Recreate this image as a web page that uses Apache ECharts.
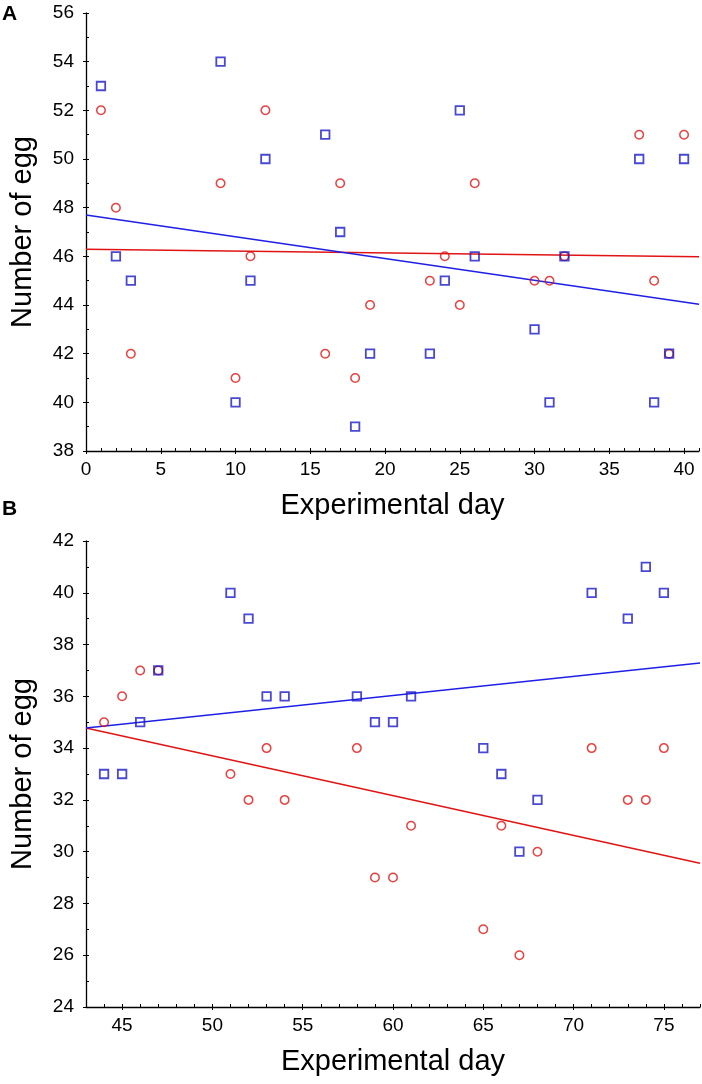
<!DOCTYPE html>
<html>
<head>
<meta charset="utf-8">
<script src="https://cdn.jsdelivr.net/npm/echarts@6/dist/echarts.min.js"></script>
<style>
html,body{margin:0;padding:0;background:#fff;}
#c{width:702px;height:1084px;}
</style>
</head>
<body>
<div id="c"></div>
<script>
// Panel A data
const daysA = [1,2,3,9,10,11,12,16,17,18,19,23,24,25,26,30,31,32,37,38,39,40];
const blueA = [53,46,45,54,40,45,50,51,47,39,42,42,45,52,46,43,40,46,50,40,42,50];
const redA  = [52,48,42,49,41,46,52,42,49,41,44,45,46,44,49,45,45,46,51,45,42,51];
const trendA_x = [0,41];
const trendBlueA = [47.7,44.03];
const trendRedA = [46.29,45.98];
const xTicksA = [0,5,10,15,20,25,30,35,40];

// Panel B data
const daysB = [44,45,46,47,51,52,53,54,58,59,60,61,65,66,67,68,71,73,74,75];
const blueB = [33,33,35,37,40,39,36,36,36,35,35,36,34,33,30,32,40,39,41,40];
const redB  = [35,36,37,37,33,32,34,32,34,29,29,31,27,31,26,30,34,32,32,34];
const trendB_x = [43,77];
const trendBlueB = [34.78,37.29];
const trendRedB = [34.78,29.55];
const xTicksB = [45,50,55,60,65,70,75];

const FONT = "'Liberation Sans', Arial, sans-serif";
const BLUE = '#1a1ac8';
const BLUE_LINE = '#1f1fe6';
const RED = '#e01414';

function pairs(xs, ys){ return xs.map((x,i)=>[x, ys[i]]); }
function range(a,b){ const r=[]; for(let v=a; v<=b; v++) r.push(v); return r; }

const chart = echarts.init(document.getElementById('c'), null, {renderer:'canvas'});

function xMain(gi, min, max, ticks){
  return {
    type:'value', gridIndex:gi, min:min, max:max, position:'bottom',
    axisLine:{show:true, onZero:false, lineStyle:{color:'#000', width:1.3}},
    axisTick:{show:true, inside:false, length:3, customValues:ticks, lineStyle:{color:'#000'}},
    axisLabel:{show:true, customValues:ticks, margin:9, fontSize:19, color:'#000', fontFamily:FONT},
    splitLine:{show:false},
    name:'Experimental day', nameLocation:'middle', nameGap:40,
    nameTextStyle:{fontSize:29, color:'#000', fontFamily:FONT}
  };
}
function xMinor(gi, min, max){
  return {
    type:'value', gridIndex:gi, min:min, max:max, position:'bottom',
    axisLine:{show:false, onZero:false},
    axisTick:{show:true, inside:true, length:3, customValues:range(Math.ceil(min), Math.floor(max)), lineStyle:{color:'#000'}},
    axisLabel:{show:false}, splitLine:{show:false}
  };
}
function yMain(gi, min, max){
  return {
    type:'value', gridIndex:gi, min:min, max:max, interval:2, position:'left',
    axisLine:{show:true, onZero:false, lineStyle:{color:'#000', width:1.3}},
    axisTick:{show:true, inside:false, length:3, lineStyle:{color:'#000'}},
    axisLabel:{show:true, margin:12, fontSize:19, color:'#000', fontFamily:FONT},
    splitLine:{show:false},
    name:'Number of egg', nameLocation:'middle', nameGap:49,
    nameTextStyle:{fontSize:29, color:'#000', fontFamily:FONT}
  };
}
function yMinor(gi, min, max){
  return {
    type:'value', gridIndex:gi, min:min, max:max, interval:1, position:'left',
    axisLine:{show:false, onZero:false},
    axisTick:{show:true, inside:true, length:3, lineStyle:{color:'#000'}},
    axisLabel:{show:false}, splitLine:{show:false}
  };
}

function scatter(name, xi, yi, data, sym, col, z){
  return {
    name:name, type:'scatter', xAxisIndex:xi, yAxisIndex:yi, data:data,
    symbol:sym, symbolSize:sym==='rect'?8.5:8.5, z:z,
    itemStyle:{color:'rgba(255,255,255,0)', borderColor:col, borderWidth:sym==='rect'?1.8:1.5},
    emphasis:{disabled:true}, silent:true, animation:false
  };
}
function line(name, xi, yi, xs, ys, col){
  return {
    name:name, type:'line', xAxisIndex:xi, yAxisIndex:yi, data:pairs(xs, ys),
    showSymbol:false, symbol:'none', z:1,
    lineStyle:{color:col, width:1.5}, animation:false, silent:true
  };
}

const option = {
  backgroundColor:'#fff',
  animation:false,
  grid:[
    {left:83, top:13, width:616, height:438},
    {left:82, top:541, width:618, height:466}
  ],
  xAxis:[ xMain(0,0,41,xTicksA), xMinor(0,0,41), xMain(1,43,77,xTicksB), xMinor(1,43,77) ],
  yAxis:[ yMain(0,38,56), yMinor(0,38,56), yMain(1,24,42), yMinor(1,24,42) ],
  graphic:[
    {type:'text', left:2, top:4, style:{text:'A', font:"bold 21px "+FONT, fill:'#000'}},
    {type:'text', left:2, top:499, style:{text:'B', font:"bold 21px "+FONT, fill:'#000'}}
  ],
  series:[
    line('trendRedA',0,0,trendA_x,trendRedA,RED),
    line('trendBlueA',0,0,trendA_x,trendBlueA,BLUE_LINE),
    scatter('redA',0,0,pairs(daysA,redA),'circle',RED,3),
    scatter('blueA',0,0,pairs(daysA,blueA),'rect',BLUE,4),
    line('trendRedB',2,2,trendB_x,trendRedB,RED),
    line('trendBlueB',2,2,trendB_x,trendBlueB,BLUE_LINE),
    scatter('redB',2,2,pairs(daysB,redB),'circle',RED,3),
    scatter('blueB',2,2,pairs(daysB,blueB),'rect',BLUE,4)
  ]
};
chart.setOption(option);
</script>
</body>
</html>
